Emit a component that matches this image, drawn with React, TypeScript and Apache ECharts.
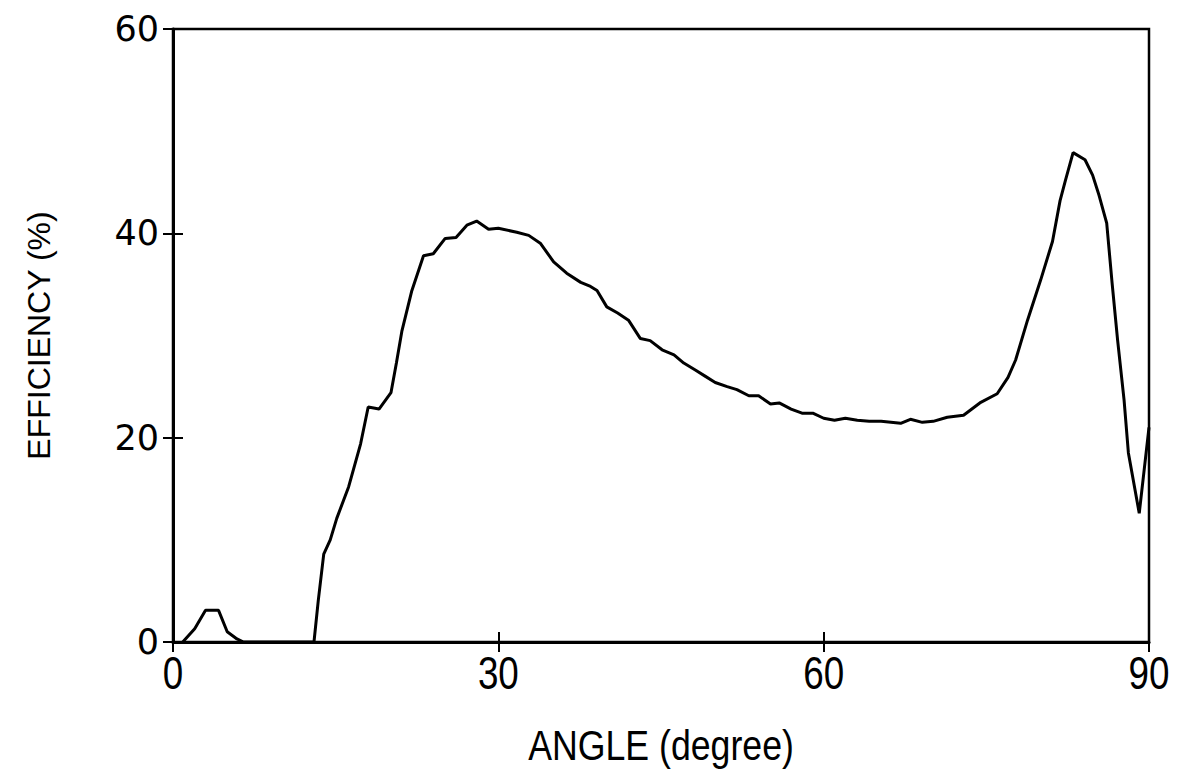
import { useEffect, useRef } from "react";
import * as echarts from "echarts";

const angleDeg = [
  0.9, 2.0, 3.0, 4.2, 5.0, 5.9, 6.5, 13.0, 13.4, 13.9, 14.5, 15.1, 16.2, 17.3, 18.0,
  19.0, 20.1, 20.6, 21.1, 22.0, 23.1, 24.0, 25.1, 26.1, 27.1, 28.0, 29.1, 30.0, 31.7,
  32.8, 33.9, 35.1, 36.3, 37.6, 38.5, 39.1, 40.0, 41.0, 42.0, 43.1, 44.0, 45.1, 46.2,
  47.1, 48.2, 49.1, 50.0, 51.1, 52.0, 53.1, 54.0, 55.1, 55.9, 57.0, 58.0, 59.0, 60.0,
  61.0, 62.0, 63.1, 64.2, 65.3, 66.2, 67.1, 68.0, 69.1, 70.1, 71.4, 72.9, 74.4, 76.0,
  77.0, 77.7, 78.8, 80.0, 81.1, 81.8, 82.3, 83.0, 84.1, 84.8, 85.4, 86.1, 86.6, 87.1,
  87.7, 88.1, 89.1, 90.0,
];

const efficiencyPct = [
  0, 1.3, 3.1, 3.1, 1.0, 0.3, 0, 0, 4.1, 8.6, 10.0, 12.1, 15.2, 19.4, 23.0,
  22.8, 24.4, 27.3, 30.4, 34.3, 37.8, 38.0, 39.5, 39.6, 40.8, 41.2, 40.4, 40.5, 40.1,
  39.8, 39.0, 37.2, 36.1, 35.2, 34.8, 34.4, 32.8, 32.2, 31.5, 29.7, 29.5, 28.6, 28.1,
  27.3, 26.6, 26.0, 25.4, 25.0, 24.7, 24.1, 24.1, 23.3, 23.4, 22.8, 22.4, 22.4, 21.9,
  21.7, 21.9, 21.7, 21.6, 21.6, 21.5, 21.4, 21.8, 21.5, 21.6, 22.0, 22.2, 23.4, 24.3,
  25.9, 27.6, 31.5, 35.4, 39.2, 43.2, 45.2, 47.9, 47.2, 45.7, 43.7, 41.0, 35.1, 29.6,
  23.7, 18.5, 12.6, 21.0,
];

const xTickLabels = [0, 30, 60, 90];
const xRange = { min: 0, max: 90, interval: 30 };
const yRange = { min: 0, max: 60, interval: 20 };
const xTitle = "ANGLE (degree)";
const yTitle = "EFFICIENCY (%)";

export default function App() {
  const ref = useRef<HTMLDivElement>(null);

  useEffect(() => {
    document.body.style.margin = "0";
    const chart = echarts.init(ref.current as HTMLDivElement, null, { renderer: "svg" });
    const sans = "'Liberation Sans', Arial, sans-serif";
    const wide = "'DejaVu Sans', sans-serif";
    const tickStyle = { color: "#000", width: 2 };
    const data = angleDeg.map((a, i) => [a, efficiencyPct[i]]);

    chart.setOption({
      animation: false,
      backgroundColor: "#ffffff",
      grid: {
        left: 173,
        right: 31,
        top: 29,
        bottom: 141,
        show: true,
        borderColor: "#000",
        borderWidth: 2.5,
        backgroundColor: "transparent",
      },
      xAxis: [
        {
          type: "value",
          ...xRange,
          position: "bottom",
          axisLine: { show: true, lineStyle: { color: "#000", width: 3 } },
          axisTick: { show: true, inside: false, length: 10, lineStyle: tickStyle },
          axisLabel: { show: false },
          splitLine: { show: false },
        },
        {
          type: "value",
          ...xRange,
          position: "bottom",
          axisLine: { show: false },
          axisTick: { show: true, inside: true, length: 10, lineStyle: tickStyle },
          axisLabel: { show: false },
          splitLine: { show: false },
        },
      ],
      yAxis: [
        {
          type: "value",
          ...yRange,
          position: "left",
          name: yTitle,
          nameLocation: "middle",
          nameGap: 118,
          nameTextStyle: { fontFamily: sans, fontSize: 32, color: "#000" },
          axisLine: { show: true, lineStyle: { color: "#000", width: 3 } },
          axisTick: { show: true, inside: false, length: 10, lineStyle: tickStyle },
          axisLabel: { show: true, margin: 14, fontFamily: wide, fontSize: 35, color: "#000" },
          splitLine: { show: false },
        },
        {
          type: "value",
          ...yRange,
          position: "left",
          axisLine: { show: false },
          axisTick: { show: true, inside: true, length: 10, lineStyle: tickStyle },
          axisLabel: { show: false },
          splitLine: { show: false },
        },
      ],
      series: [
        {
          type: "line",
          xAxisIndex: 0,
          yAxisIndex: 0,
          data,
          symbol: "none",
          showSymbol: false,
          smooth: false,
          lineStyle: { color: "#000", width: 3 },
        },
      ],
    });

    // Condensed x-axis labels and title, placed through the axis scale.
    const baseY = chart.convertToPixel({ yAxisIndex: 0 }, 0) as number;
    const midX = chart.convertToPixel({ xAxisIndex: 0 }, (xRange.min + xRange.max) / 2) as number;
    const labelEls = xTickLabels.map((v) => ({
      type: "text",
      x: chart.convertToPixel({ xAxisIndex: 0 }, v) as number,
      y: baseY + 31,
      scaleX: 0.8,
      silent: true,
      style: {
        text: String(v),
        fontFamily: sans,
        fontSize: 46,
        fill: "#000",
        textAlign: "center",
        textVerticalAlign: "middle",
      },
    }));
    chart.setOption({
      graphic: [
        ...labelEls,
        {
          type: "text",
          x: midX,
          y: baseY + 103,
          scaleX: 0.83,
          silent: true,
          style: {
            text: xTitle,
            fontFamily: sans,
            fontSize: 43,
            fill: "#000",
            textAlign: "center",
            textVerticalAlign: "middle",
          },
        },
      ],
    });

    return () => {
      chart.dispose();
    };
  }, []);

  return <div ref={ref} style={{ width: 1180, height: 783 }} />;
}
